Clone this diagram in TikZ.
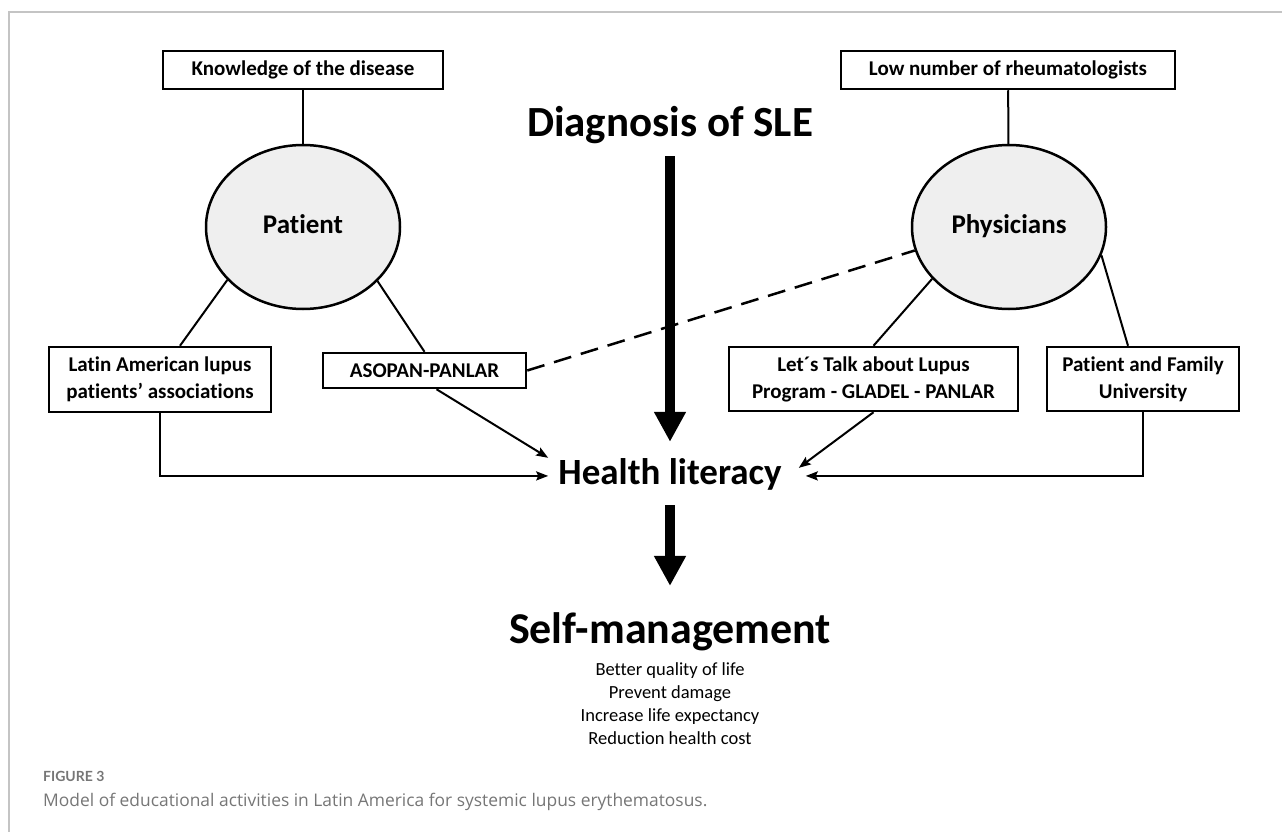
\documentclass[tikz,border=0pt]{standalone}
\usepackage{fontspec}
\setmainfont{Carlito}[Ligatures=NoCommon]
\newfontfamily\labfont{Lato}[Ligatures=NoCommon]
\newfontfamily\capfont{Open Sans}[Ligatures=NoCommon]
\usetikzlibrary{arrows.meta,shapes.geometric}
\definecolor{ellfill}{HTML}{EFEFEF}
\definecolor{capgray}{HTML}{767676}
\definecolor{framegray}{HTML}{C4C4C4}
\begin{document}
\begin{tikzpicture}[x=1pt,y=-1pt,
  boxnode/.style={draw, line width=2.5pt, inner sep=0pt, align=center, font=\fontsize{21}{27}\selectfont\bfseries},
  ellnode/.style={ellipse, draw, line width=2.5pt, fill=ellfill, minimum width=194pt, minimum height=164pt, inner sep=0pt, text height=18pt, text depth=5pt, font=\fontsize{27}{32}\selectfont\bfseries},
  link/.style={line width=2pt},
  dashlink/.style={line width=2.5pt, dash pattern=on 18pt off 10pt},
  thinarrow/.style={line width=2pt, -{Stealth[length=12pt,width=9pt,inset=2pt]}},
  bigarrow/.style={line width=10pt, -{Triangle[length=30pt,width=30pt]}},
  title/.style={inner sep=0pt, anchor=base, font=\fontsize{43}{50}\selectfont\bfseries},
  captxt/.style={inner sep=0pt, anchor=west, text=capgray}
]
\useasboundingbox (0,0) rectangle (1282,832);
% frame
\draw[framegray, line width=1.3pt] (1282,12) -- (9,12) -- (9,832);

% top boxes
\node[boxnode, minimum width=280pt, minimum height=38pt] (know) at (303,70) {Knowledge of the disease};
\node[boxnode, minimum width=334pt, minimum height=38pt] (low) at (1008,70) {Low number of rheumatologists};

% ellipses
\node[ellnode] (patient) at (303,227) {Patient};
\node[ellnode] (phys) at (1009,227) {Physicians};

% lower boxes
\node[boxnode, minimum width=222pt, minimum height=65pt] (latin) at (160,379.5) {Latin American lupus\\patients' associations};
\node[boxnode, minimum width=203pt, minimum height=35pt] (asopan) at (424.5,370.5) {ASOPAN-PANLAR};
\node[boxnode, minimum width=289pt, minimum height=64pt] (talk) at (873.5,379) {Let´s Talk about Lupus\\Program - GLADEL - PANLAR};
\node[boxnode, minimum width=192pt, minimum height=64pt] (family) at (1143,379) {Patient and Family\\University};

% central texts
\node[title] (diag) at (670,136) {Diagnosis of SLE};
\node[title, font=\fontsize{37}{44}\selectfont\bfseries, inner xsep=10pt] (health) at (670,484) {Health literacy};
\node[title, font=\fontsize{44}{50}\selectfont\bfseries] (self) at (670,643) {Self-management};
\node[inner sep=0pt, anchor=north, align=center, font=\fontsize{18.5}{23}\selectfont] (outcomes) at (670,662) {Better quality of life\\Prevent damage\\Increase life expectancy\\Reduction health cost};

% caption
\node[captxt, font=\labfont\bfseries\fontsize{14}{16}\selectfont] (figlabel) at (43,776) {FIGURE 3};
\node[captxt, font=\capfont\fontsize{17.4}{20}\selectfont] (figcap) at (43,802) {Model of educational activities in Latin America for systemic lupus erythematosus.};

% connectors
\draw[link] (know) -- (patient);
\draw[link] (low) -- (phys);
\draw[link] (patient.215) -- ([xshift=20pt]latin.north);
\draw[link] (patient.324) -- (asopan.north);
\draw[link] (phys.214) -- (talk.north);
\draw[link] (phys.343) -- ([xshift=-15pt]family.north);
\draw[dashlink] (asopan.east) -- (phys.194);

\draw[bigarrow] ([yshift=-13pt]diag.south) -- ([yshift=16pt]health.north);
\draw[bigarrow] ([yshift=-15pt]health.south) -- ([yshift=26pt]self.north);

\draw[thinarrow] (latin.south) |- ([yshift=-2pt]health.west);
\draw[thinarrow] (family.south) |- ([yshift=-2pt,xshift=14pt]health.east);
\draw[thinarrow] ([xshift=12pt]asopan.south) -- (health.north west);
\draw[thinarrow] (talk.south) -- ([xshift=7pt,yshift=-10pt]health.north east);
\end{tikzpicture}
\end{document}
